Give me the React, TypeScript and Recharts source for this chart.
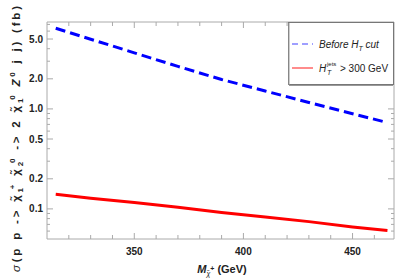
import React from "react";
import {
  LineChart,
  Line,
  XAxis,
  YAxis,
  Legend,
  Label,
  ReferenceArea,
} from "recharts";

// chargino mass (GeV)
const masses = [314, 330, 350, 370, 390, 410, 430, 450, 466];
// cross section before the H_T cut (fb)
const beforeCut = [6.4, 4.98, 3.64, 2.66, 1.97, 1.51, 1.16, 0.895, 0.73];
// cross section with H_T^jets > 300 GeV (fb)
const afterCut = [0.14, 0.128, 0.116, 0.104, 0.092, 0.083, 0.0746, 0.066, 0.0607];

const xTicks = [320, 330, 340, 350, 360, 370, 380, 390, 400, 410, 420, 430, 440, 450, 460];
const xLabelled = [350, 400, 450];
const yTicks = [
  0.06, 0.07, 0.08, 0.09, 0.1, 0.2, 0.3, 0.4, 0.5, 0.6, 0.7, 0.8, 0.9, 1, 2, 3, 4, 5, 6, 7,
];
const yLabelled = [0.1, 0.2, 0.5, 1, 2, 5];

const data = masses.map((m, i) => ({
  m,
  before: beforeCut[i],
  after: afterCut[i],
}));

const W = 400;
const H = 280;
const LEFT = 47;
const RIGHT = 394;
const TOP = 22;
const BOTTOM = 239;
const FRAME = "#aaaaaa";
const FONT = "'Liberation Sans', Arial, sans-serif";

const XTick = (props: any) => {
  const { x, payload } = props;
  const v = payload.value;
  const major = xLabelled.includes(v);
  const len = major ? 6 : 4;
  return (
    <g>
      <line x1={x} x2={x} y1={BOTTOM} y2={BOTTOM - len} stroke={FRAME} />
      <line x1={x} x2={x} y1={TOP} y2={TOP + len} stroke={FRAME} />
      {major && (
        <text
          x={x}
          y={BOTTOM + 16}
          textAnchor="middle"
          fontSize={10}
          fontWeight="bold"
          fontFamily={FONT}
          fill="#222"
        >
          {v}
        </text>
      )}
    </g>
  );
};

const YTick = (props: any) => {
  const { y, payload } = props;
  const v = payload.value;
  const major = yLabelled.includes(v);
  const len = major ? 6 : 3;
  return (
    <g>
      <line x1={LEFT} x2={LEFT + len} y1={y} y2={y} stroke={FRAME} />
      <line x1={RIGHT} x2={RIGHT - len} y1={y} y2={y} stroke={FRAME} />
      {major && (
        <text
          x={LEFT - 4}
          y={y}
          dy="0.35em"
          textAnchor="end"
          fontSize={10}
          fontWeight="bold"
          fontFamily={FONT}
          fill="#222"
        >
          {v.toFixed(1)}
        </text>
      )}
    </g>
  );
};

const renderYLabel = () => (
  <text
    transform="rotate(-90)"
    x={-139}
    y={20}
    textAnchor="middle"
    fontSize={11.5}
    fontWeight="bold"
    fontFamily={FONT}
    fill="#222"
    textLength={266}
    lengthAdjust="spacing"
  >
    <tspan fontStyle="italic" fontWeight="normal">σ</tspan>
    <tspan>(p p -&gt; χ̃</tspan>
    <tspan fontSize={8} dy={3}>1</tspan>
    <tspan fontSize={8} dx={-4} dy={-8}>+</tspan>
    <tspan dy={5}> χ̃</tspan>
    <tspan fontSize={8} dy={3}>2</tspan>
    <tspan fontSize={8} dx={-4} dy={-8}>0</tspan>
    <tspan dy={5}> -&gt; 2 χ̃</tspan>
    <tspan fontSize={8} dy={3}>1</tspan>
    <tspan fontSize={8} dx={-4} dy={-8}>0</tspan>
    <tspan dy={5} fontStyle="italic"> Z</tspan>
    <tspan fontSize={8} dy={-5}>0</tspan>
    <tspan dy={5}> j j) (fb)</tspan>
  </text>
);

const renderXLabel = () => (
  <text
    x={222}
    y={273}
    textAnchor="middle"
    fontSize={11}
    fontWeight="bold"
    fontFamily={FONT}
    fill="#222"
  >
    <tspan fontStyle="italic">M</tspan>
    <tspan fontSize={7} fontWeight="normal" fontStyle="italic" dy={3}>χ̃</tspan>
    <tspan fontSize={7} dy={-5}>+</tspan>
    <tspan dy={2}> (GeV)</tspan>
  </text>
);

const LegendBox = () => (
  <svg width={106} height={64} style={{ display: "block" }}>
    <rect x={0.5} y={0.5} width={105} height={62} fill="#fff" stroke="#777" />
    <line x1={1} x2={1} y1={1} y2={63} stroke="#999" />
    <line x1={1} x2={105} y1={63.5} y2={63.5} stroke="#999" />
    <line x1={4} x2={25} y1={22} y2={22} stroke="#8080ff" strokeWidth={1.5} strokeDasharray="6 4" />
    <text x={31} y={25.5} fontSize={10} fontStyle="italic" fontFamily={FONT} fill="#222">
      Before H
      <tspan fontSize={7} dy={3}>T</tspan>
      <tspan dy={-3}> cut</tspan>
    </text>
    <line x1={4} x2={25} y1={46} y2={46} stroke="#ff6666" strokeWidth={1.5} />
    <text x={31} y={50} fontSize={10} fontStyle="italic" fontFamily={FONT} fill="#222">H</text>
    <text x={39} y={44} fontSize={6} fontFamily={FONT} fill="#222">jets</text>
    <text x={39} y={53} fontSize={7} fontStyle="italic" fontFamily={FONT} fill="#222">T</text>
    <text x={52} y={50} fontSize={10} fontFamily={FONT} fill="#222">&gt; 300 GeV</text>
  </svg>
);

export default function App() {
  return (
    <div style={{ position: "absolute", left: 0, top: 0, background: "#fff" }}>
      <LineChart
        width={W}
        height={H}
        data={data}
        margin={{ top: TOP, right: W - RIGHT, bottom: 0, left: 0 }}
      >
        <XAxis
          dataKey="m"
          type="number"
          domain={[310, 469]}
          ticks={xTicks}
          tick={<XTick />}
          tickLine={false}
          axisLine={false}
          height={H - BOTTOM}
          allowDataOverflow
          interval={0}
        >
          <Label content={renderXLabel} />
        </XAxis>
        <YAxis
          type="number"
          scale="log"
          domain={[0.05, 7.4]}
          ticks={yTicks}
          tick={<YTick />}
          tickLine={false}
          axisLine={false}
          width={LEFT}
          allowDataOverflow
          interval={0}
        >
          <Label content={renderYLabel} />
        </YAxis>
        <ReferenceArea
          x1={310}
          x2={469}
          y1={0.05}
          y2={7.4}
          fill="none"
          stroke={FRAME}
          strokeOpacity={1}
          fillOpacity={0}
        />
        <Legend
          layout="vertical"
          align="center"
          verticalAlign="middle"
          wrapperStyle={{ left: 288, top: TOP, width: 106 }}
          content={() => <LegendBox />}
        />
        <Line
          dataKey="before"
          stroke="#0000ff"
          strokeWidth={3}
          strokeDasharray="10 5"
          dot={false}
          isAnimationActive={false}
        />
        <Line
          dataKey="after"
          stroke="#ff0000"
          strokeWidth={3}
          dot={false}
          isAnimationActive={false}
        />
      </LineChart>
    </div>
  );
}
